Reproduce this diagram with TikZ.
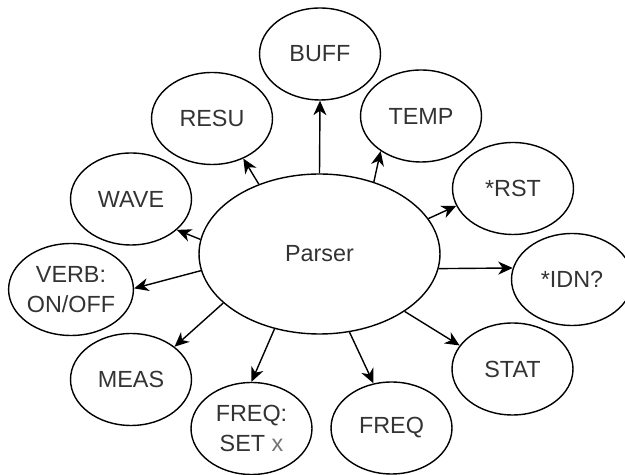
\documentclass[tikz,border=0pt]{standalone}
\usepackage{fontspec}
\setmainfont{Liberation Sans}
\usetikzlibrary{shapes.geometric, arrows.meta}

\begin{document}
\begin{tikzpicture}[x=0.02cm, y=-0.02cm,
                cmd/.style={ellipse, draw, line width=0.8pt, inner sep=0pt,
                            minimum width=2.42cm, minimum height=1.84cm,
                            align=center, text=black!80,
                            font=\fontsize{13.3}{17}\selectfont},
                arr/.style={-{Stealth[length=2.9mm, width=2.6mm, inset=0.9mm]}, line width=0.8pt}
            ]
                \useasboundingbox (0,0) rectangle (625,475);

                \node[cmd, minimum width=4.82cm, minimum height=3.2cm] (parser) at (319.5,254) {Parser};

                \node[cmd] (buff) at (320,54) {BUFF};
                \node[cmd] (resu) at (212,118.5) {RESU};
                \node[cmd] (temp) at (421,116) {TEMP};
                \node[cmd] (rst) at (513,188.5) {*RST};
                \node[cmd] (wave) at (131,199) {WAVE};
                \node[cmd] (verb) at (71,289.5) {VERB:\\ON/OFF};
                \node[cmd] (idn) at (572,279.5) {*IDN?};
                \node[cmd] (meas) at (131,379.5) {MEAS};
                \node[cmd] (freqset) at (251.5,428.5) {FREQ:\\SET \textcolor{black!55}{x}};
                \node[cmd] (freq) at (391.5,428) {FREQ};
                \node[cmd] (stat) at (512.5,369) {STAT};

                \draw[arr] (parser.90) -- (buff.-90);
                \draw[arr] (parser.131) -- (resu.-52);
                \draw[arr] (parser.53) -- (temp.-139);
                \draw[arr] (parser.18) -- (rst.197);
                \draw[arr] (parser.-7) -- (idn.169);
                \draw[arr] (parser.-34) -- (stat.156);
                \draw[arr] (parser.-69) -- (freq.112);
                \draw[arr] (parser.-121) -- (freqset.90);
                \draw[arr] (parser.-153) -- (meas.37);
                \draw[arr] (parser.188) -- (verb.1);
                \draw[arr] (parser.173) -- (wave.-34);
            \end{tikzpicture}
\end{document}
